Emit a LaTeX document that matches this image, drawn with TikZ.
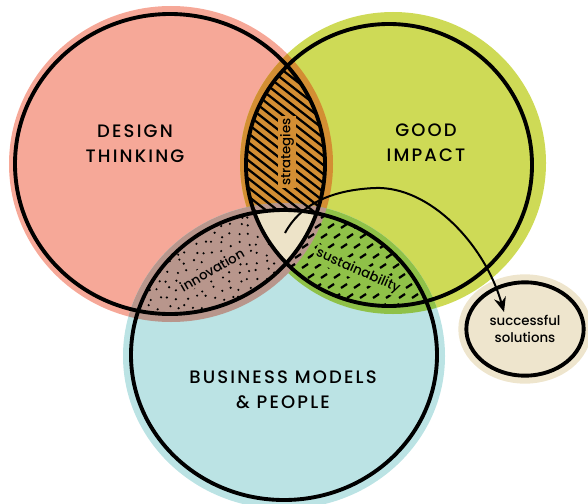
\documentclass[tikz,border=0pt]{standalone}
\usepackage{fontspec}
\setmainfont{Poppins}
\newfontfamily\ringfont[LetterSpace=12,UprightFont={* Medium}]{Poppins}
\newfontfamily\lensfont[UprightFont={* Medium}]{Poppins}
\usetikzlibrary{arrows.meta,shapes.geometric}

\definecolor{dtfill}{HTML}{F6A898}
\definecolor{gifill}{HTML}{CEDA56}
\definecolor{bmfill}{HTML}{BBE3E4}
\definecolor{stratfill}{HTML}{D38E33}
\definecolor{innovfill}{HTML}{B8968C}
\definecolor{sustfill}{HTML}{8FC148}
\definecolor{corefill}{HTML}{EDE3C8}
\definecolor{solfill}{HTML}{EEE5CD}

% rings and the colour blobs under them
\newcommand\dtoutline{(170,164) ellipse [x radius=155,y radius=150]}
\newcommand\gioutline{(389,165) ellipse [x radius=143,y radius=141]}
\newcommand\bmoutline{(284,355) ellipse [x radius=153,y radius=145]}
\newcommand\dtblob{(171,164) ellipse [x radius=162,y radius=158]}
\newcommand\giblob{(393,163) ellipse [x radius=153,y radius=151]}
\newcommand\bmblob{(284,356) ellipse [x radius=161,y radius=153]}

\begin{document}
\begin{tikzpicture}[x=0.75pt,y=-0.75pt,
    outline/.style={line width=2.9pt},
    bigtext/.style={align=center,font=\ringfont\fontsize{13.5}{18.5}\selectfont},
    smalltext/.style={font=\lensfont\fontsize{10}{12}\selectfont,inner sep=1.5pt},
    hatch/.style={line width=1.7pt},
    solbox/.style={ellipse,draw,line width=2.9pt,fill=solfill,
        preaction={draw=solfill,line width=12pt},
        minimum width=88pt,minimum height=70pt,align=center,
        font=\lensfont\fontsize{10}{13}\selectfont}]
\useasboundingbox (0,0) rectangle (588,503);

\fill[dtfill] \dtblob;
\fill[gifill] \giblob;
\fill[bmfill] \bmblob;

\begin{scope}
    \clip \dtblob;
    \fill[stratfill] \giblob;
\end{scope}
\begin{scope}
    \clip \giblob;
    \fill[sustfill] \bmblob;
\end{scope}
\begin{scope}
    \clip \dtblob;
    \fill[innovfill] \bmblob;
\end{scope}

% strokes, dashes and dots
\begin{scope}
    \clip \dtoutline; \clip \gioutline;
    \foreach \y in {-30,-21,...,225}
        \draw[hatch] (235,\y) -- (340,\y+82);
\end{scope}
\begin{scope}
    \clip \gioutline; \clip \bmoutline;
    \foreach \y [count=\r] in {198,208,...,318}
        \foreach \x in {276,289,...,440}
            \draw[hatch] ({\x+6*mod(\r,2)},\y) -- ++(6,-4);
\end{scope}
\begin{scope}
    \clip \dtoutline; \clip \bmoutline;
    \pgfmathsetseed{11}
    \foreach \x in {132,141,...,300}
        \foreach \y in {208,217,...,324}
            \fill ({\x+2.5*rand},{\y+2.5*rand}) circle (1.2);
\end{scope}

\begin{scope}
    \clip \dtoutline; \clip \gioutline;
    \fill[corefill] \bmoutline;
\end{scope}

\node[smalltext,fill=stratfill,rotate=90] at (287,152) (strat) {strategies};
\node[smalltext,fill=innovfill,rotate=30] at (212,270) (innov) {innovation};
\node[smalltext,fill=sustfill,rotate=-24] at (358,271) (sust) {sustainability};

\draw[outline] \dtoutline;
\draw[outline] \gioutline;
\draw[outline] \bmoutline;

\node[bigtext] at (135,144) (dt) {DESIGN\\THINKING};
\node[bigtext] at (426,143) (gi) {GOOD\\IMPACT};
\node[bigtext] at (283,390) (bm) {BUSINESS MODELS\\\& PEOPLE};

\node[solbox] at (525,329) (sol) {successful\\solutions};

\coordinate (core) at (285,233);
\coordinate (tip) at (504,312);
\draw[line width=1.5pt,-{Stealth[length=11pt,width=9pt]}] (core) .. controls (300,205) and (330,190) .. (375,188)
    .. controls (430,186) and (485,245) .. (tip);
\end{tikzpicture}
\end{document}
